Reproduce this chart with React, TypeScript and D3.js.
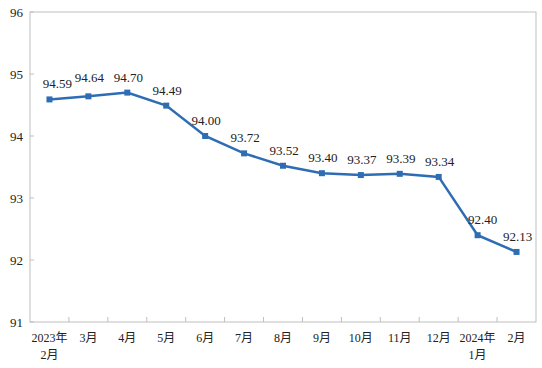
import React from "react";
import * as d3 from "d3";

const categories = ["2023年\n2月", "3月", "4月", "5月", "6月", "7月", "8月", "9月", "10月", "11月", "12月", "2024年\n1月", "2月"];
const values = [94.59, 94.64, 94.7, 94.49, 94.0, 93.72, 93.52, 93.4, 93.37, 93.39, 93.34, 92.4, 92.13];
const yTicks = [91, 92, 93, 94, 95, 96];

const W = 542, H = 368;
const M = { left: 30, right: 6, top: 12, bottom: 46 };

export default function App() {
  const x = d3.scaleBand<number>().domain(d3.range(categories.length)).range([M.left, W - M.right]).padding(0);
  const y = d3.scaleLinear().domain([91, 96]).range([H - M.bottom, M.top]);
  const line = d3.line<number>().x((_, i) => x(i)! + x.bandwidth() / 2).y((d) => y(d));
  const grey = "#bfbfbf";
  const blue = "#2e6db4";
  const font = "'Liberation Serif', 'Times New Roman', 'Noto Sans CJK SC', serif";
  const x0 = M.left, x1 = W - M.right, yb = y(91), yt = y(96);
  return (
    <svg width={W} height={H} style={{ position: "absolute", left: 0, top: 0 }} fontFamily={font}>
      <rect x={0} y={0} width={W} height={H} fill="#fff" />
      <rect x={x0} y={yt} width={x1 - x0} height={yb - yt} fill="none" stroke={grey} strokeWidth={1} />
      {yTicks.map((t) => (
        <g key={t}>
          <line x1={x0} x2={x0 + 4} y1={y(t)} y2={y(t)} stroke={grey} />
          <text x={23} y={y(t)} dy="0.35em" textAnchor="end" fontSize={13} fill="#222">{t}</text>
        </g>
      ))}
      {d3.range(1, categories.length).map((i) => (
        <line key={i} x1={x(i)!} x2={x(i)!} y1={yb} y2={yb - 5} stroke={grey} />
      ))}
      {categories.map((c, i) => (
        <text key={c} x={x(i)! + x.bandwidth() / 2} y={yb + 20} textAnchor="middle" fontSize={12} fill="#222">
          {c.split("\n").map((s, j) => (
            <tspan key={j} x={x(i)! + x.bandwidth() / 2} dy={j === 0 ? 0 : 17}>{s}</tspan>
          ))}
        </text>
      ))}
      <path d={line(values) || ""} fill="none" stroke={blue} strokeWidth={2.5} />
      {values.map((v, i) => (
        <rect key={i} x={x(i)! + x.bandwidth() / 2 - 3} y={y(v) - 3} width={6} height={6} fill={blue} />
      ))}
      {values.map((v, i) => (
        <text key={i} x={x(i)! + x.bandwidth() / 2 + (i === 0 ? 8 : i === 11 ? 5 : 1)} y={y(v) - (i === 1 ? 14 : 11)} textAnchor="middle" fontSize={13} fill="#222">
          {v.toFixed(2)}
        </text>
      ))}
    </svg>
  );
}
